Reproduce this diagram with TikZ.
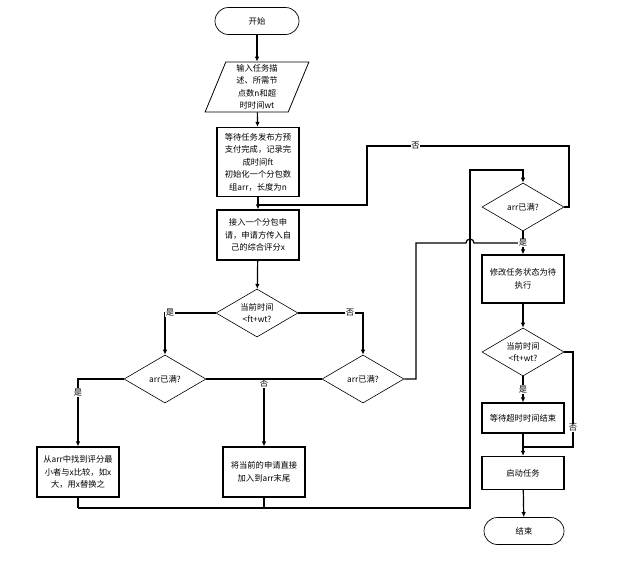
\documentclass[tikz,border=0pt]{standalone}
\usepackage{fontspec}
\setmainfont{Noto Sans CJK SC}
\usetikzlibrary{shapes.geometric,arrows.meta}

\tikzset{
  base/.style={font=\fontsize{8.3}{12.5}\selectfont, align=center, inner sep=1pt},
  term/.style={base, draw, line width=0.7pt, rounded corners=13.5pt, minimum width=84, minimum height=27},
  iobox/.style={base, draw, line width=0.8pt, trapezium, trapezium left angle=73, trapezium right angle=107,
    trapezium stretches=true, minimum width=104, minimum height=50},
  procbox/.style={base, draw, line width=1.2pt, minimum width=82, minimum height=48, text width=78},
  decide/.style={base, draw, line width=0.6pt, diamond, shape aspect=1.7, inner sep=0pt, minimum width=82, minimum height=48},
  lbl/.style={font=\fontsize{8.3}{10}\selectfont, fill=white, inner sep=0.5pt},
  flow/.style={line width=1.2pt},
  arr/.style={flow, -{Latex[length=5pt,width=4.5pt]}}
}

\begin{document}
\begin{tikzpicture}[x=1pt,y=-1pt]
    \useasboundingbox (0,0) rectangle (635,560);

    % --- Left column ---
    \node[term] (start) at (257,21) {开始};
    \node[iobox] (input) at (257,87) {输入任务描\\述、所需节\\点数n和超\\时时间wt};
    \node[procbox, minimum height=69] (prep) at (258,162) {等待任务发布方预\\支付完成，记录完\\成时间ft\\初始化一个分包数\\组arr，长度为n};
    \node[procbox, minimum height=50] (recv) at (258,235) {接入一个分包申\\请，申请方传入自\\己的综合评分x};
    \node[decide] (chk1) at (257,313) {当前时间\\<ft+wt?};

    % --- Second level checks ---
    \node[decide] (fullL) at (165,379) {arr已满?};
    \node[decide] (fullR) at (363,379) {arr已满?};
    \node[procbox, minimum height=50] (swap) at (78,472) {从arr中找到评分最\\小者与x比较，如x\\大，用x替换之};
    \node[procbox, minimum height=50] (append) at (264,472) {将当前的申请直接\\加入到arr末尾};

    % --- Right column ---
    \node[decide] (full2) at (523,207) {arr已满?};
    \node[procbox, minimum height=48] (modify) at (523,279) {修改任务状态为待\\执行};
    \node[decide] (chk2) at (523,352) {当前时间\\<ft+wt?};
    \node[procbox, minimum height=30] (wait) at (523,418) {等待超时时间结束};
    \node[procbox, minimum height=33] (launch) at (523,473) {启动任务};
    \node[term, minimum width=80] (finish) at (524,531) {结束};

    % Free corners of the connectors
    \coordinate (j0) at (258,205);
    \coordinate (l1) at (367,146);
    \coordinate (r1) at (569,146);
    \coordinate (j1) at (264,379);
    \coordinate (jL) at (78,508);
    \coordinate (jM) at (264,508);
    \coordinate (jR) at (470,508);
    \coordinate (top2) at (470,170);
    \coordinate (loopR) at (416,243);
    \coordinate (hop) at (470,243);
    \coordinate (j3) at (523,243);
    \coordinate (r2) at (573,447);
    \coordinate (j4) at (523,447);

    % Main line
    \draw[arr] (start) -- (input);
    \draw[arr] (input) -- (prep);
    \draw[arr] (prep) -- (recv);
    \draw[arr] (recv) -- (chk1);

    % Branches of the first check
    \draw[arr] (chk1.west) -| node[lbl, pos=0.45] {是} (fullL.north);
    \draw[arr] (chk1.east) -| node[lbl, pos=0.4] {否} (fullR.north);
    \draw[arr] (fullL.west) -| node[lbl, pos=0.6] {是} (swap.north);
    \draw[flow] (fullL.east) -- (fullR.west);
    \draw[arr] (j1) -- node[lbl, pos=0.07] {否} (append.north);

    % Back to the array check
    \draw[flow] (swap.south) -- (jL);
    \draw[flow] (append.south) -- (jM);
    \draw[arr] (jL) -- (jR) -- (top2) -| (full2.north);
    \draw[flow] (full2.east) -| (r1) -- node[lbl, pos=0.76] {否} (l1) |- (j0);

    % Full array after timeout
    \draw[flow] (fullR.east) -| (loopR) -- ([xshift=-4pt]hop)
        arc[start angle=180, end angle=0, radius=4pt] -- (j3);
    \draw[flow] (full2.south) -- (j3);
    \draw[arr] (j3) -- (modify.north);
    \node[lbl] at (j3) {是};

    % Right column
    \draw[arr] (modify) -- (chk2);
    \draw[arr] (chk2.south) -- node[lbl, pos=0.5] {是} (wait.north);
    \draw[flow] (chk2.east) -| node[lbl, pos=0.9] {否} (r2) -- (j4);
    \draw[arr] (wait.south) -- (launch.north);
    \draw[arr] (launch) -- (finish);
\end{tikzpicture}
\end{document}
